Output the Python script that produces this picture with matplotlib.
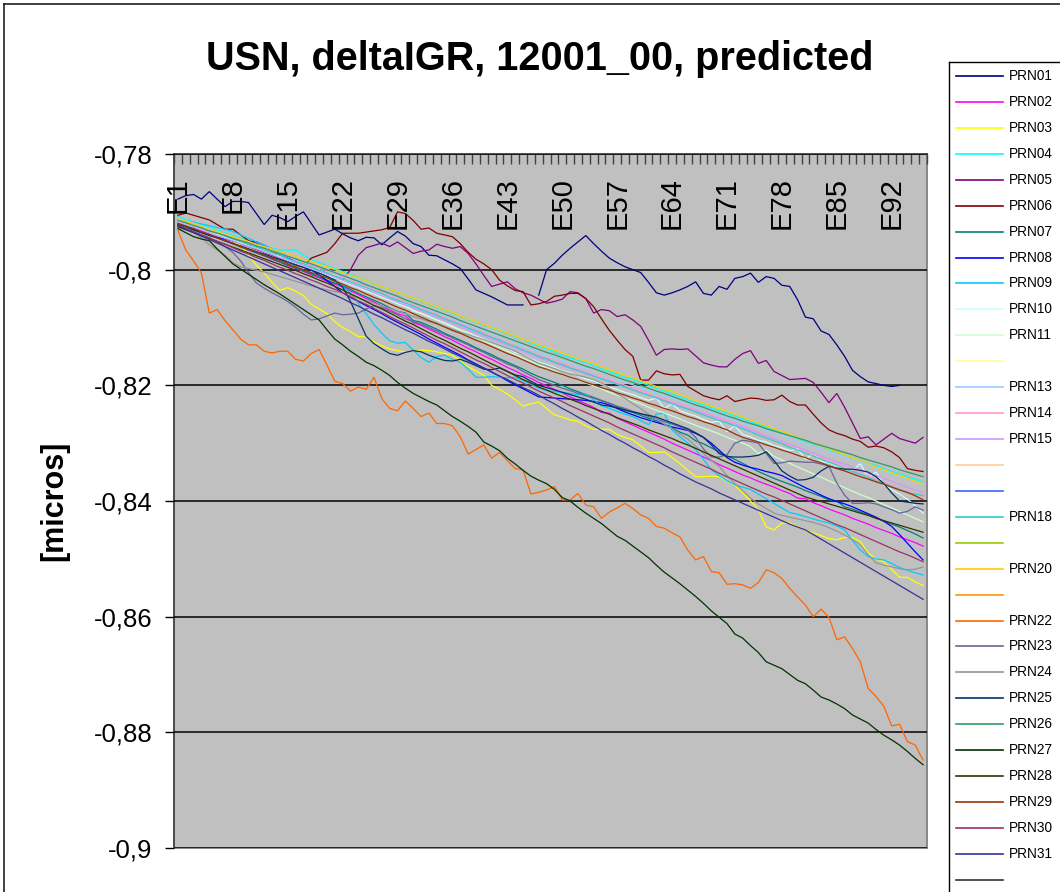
import matplotlib
matplotlib.use("Agg")
import matplotlib.pyplot as plt
import numpy as np
from matplotlib.lines import Line2D
from matplotlib.transforms import blended_transform_factory

plt.rcParams['font.family'] = ['Liberation Sans', 'DejaVu Sans']

nan = float('nan')

title = "USN, deltaIGR, 12001_00, predicted"
y_label = "[micros]"
epochs = ["E%d" % i for i in range(1, 97)]
tick_labels = ["E1", "E8", "E15", "E22", "E29", "E36", "E43", "E50",
               "E57", "E64", "E71", "E78", "E85", "E92"]
y_ticks = [-0.9, -0.88, -0.86, -0.84, -0.82, -0.8, -0.78]
y_tick_labels = ["-0,9", "-0,88", "-0,86", "-0,84", "-0,82", "-0,8", "-0,78"]

legend_labels = ["PRN01", "PRN02", "PRN03", "PRN04", "PRN05", "PRN06", "PRN07", "PRN08",
                 "PRN09", "PRN10", "PRN11", "", "PRN13", "PRN14", "PRN15", "",
                 "", "PRN18", "", "PRN20", "", "PRN22", "PRN23", "PRN24",
                 "PRN25", "PRN26", "PRN27", "PRN28", "PRN29", "PRN30", "PRN31", ""]
legend_colors = ["#000080", "#FF00FF", "#FFFF00", "#00FFFF", "#800080", "#800000", "#008080", "#0000FF",
                 "#00CCFF", "#CCFFFF", "#CCFFCC", "#FFFF99", "#99CCFF", "#FF99CC", "#CC99FF", "#FFCC99",
                 "#3366FF", "#33CCCC", "#99CC00", "#FFCC00", "#FF9900", "#FF6600", "#666699", "#969696",
                 "#003366", "#339966", "#003300", "#333300", "#993300", "#993366", "#333399", "#333333"]

prn01 = [-.7878, -.7872, -.7870, -.7878, -.7865, -.7878, -.7891, -.7882, -.7882, -.7884,
         -.7903, -.7922, -.7906, -.7910, -.7917, -.7908, -.7900, -.7920, -.7940, -.7935,
         -.7930, -.7938, -.7945, -.7950, -.7944, -.7945, -.7957, -.7945, -.7934, -.7942,
         -.7955, -.7960, -.7975, -.7976, -.7983, -.7990, -.7998, -.8016, -.8035, -.8041,
         -.8047, -.8054, -.8061, -.8061, -.8061, nan, -.8044, -.8000, -.7989, -.7975,
         -.7963, -.7952, -.7941, -.7955, -.7968, -.7980, -.7988, -.7995, -.8000, -.8005,
         -.8022, -.8040, -.8044, -.8040, -.8035, -.8029, -.8021, -.8041, -.8044, -.8029,
         -.8034, -.8015, -.8012, -.8006, -.8022, -.8012, -.8015, -.8027, -.8029, -.8052,
         -.8082, -.8085, -.8106, -.8112, -.8130, -.8150, -.8174, -.8185, -.8194, -.8197,
         -.8200, -.8202, -.8200, nan, nan, nan]
prn02 = [-.7917, -.7922, -.7928, -.7933, -.7939, -.7944, -.7949, -.7955, -.7960, -.7966,
         -.7971, -.7976, -.7982, -.7987, -.7993, -.7998, -.8003, -.8009, -.8014, -.8020,
         -.8025, -.8030, -.8037, -.8043, -.8050, -.8056, -.8063, -.8070, -.8076, -.8080,
         -.8092, -.8096, -.8103, -.8109, -.8116, -.8122, -.8129, -.8136, -.8142, -.8149,
         -.8155, -.8162, -.8169, -.8175, -.8182, -.8188, -.8195, -.8201, -.8207, -.8213,
         -.8220, -.8226, -.8232, -.8238, -.8247, -.8248, -.8257, -.8263, -.8269, -.8275,
         -.8281, -.8287, -.8293, -.8300, -.8306, -.8312, -.8318, -.8324, -.8330, -.8337,
         -.8343, -.8349, -.8355, -.8360, -.8366, -.8371, -.8376, -.8382, -.8387, -.8395,
         -.8396, -.8403, -.8408, -.8414, -.8419, -.8424, -.8430, -.8435, -.8440, -.8446,
         -.8451, -.8456, -.8462, -.8467, -.8472, -.8478]
prn03 = [-.7918, -.7922, -.7926, -.7930, -.7935, -.7940, -.7945, -.7950, -.7958, -.7975,
         -.7992, -.8006, -.8022, -.8036, -.8031, -.8037, -.8045, -.8060, -.8068, -.8076,
         -.8090, -.8100, -.8107, -.8116, -.8116, -.8125, -.8132, -.8137, -.8140, -.8142,
         -.8141, -.8139, -.8140, -.8142, -.8145, -.8148, -.8158, -.8168, -.8175, -.8183,
         -.8200, -.8207, -.8215, -.8225, -.8236, -.8232, -.8229, -.8240, -.8251, -.8255,
         -.8260, -.8262, -.8270, -.8276, -.8276, -.8276, -.8285, -.8290, -.8294, -.8305,
         -.8316, -.8316, -.8315, -.8325, -.8335, -.8347, -.8358, -.8358, -.8357, -.8358,
         -.8366, -.8373, -.8386, -.8400, -.8415, -.8445, -.8450, -.8438, -.8438, -.8444,
         -.8450, -.8455, -.8460, -.8465, -.8467, -.8463, -.8463, -.8470, -.8490, -.8500,
         -.8505, -.8518, -.8532, -.8532, -.8540, -.8546]
prn04 = [-.7908, -.7913, -.7918, -.7923, -.7927, -.7932, -.7936, -.7941, -.7946, -.7950,
         -.7955, -.7959, -.7963, -.7966, -.7966, -.7966, -.7975, -.7982, -.7988, -.7993,
         -.7998, -.8003, -.8008, -.8013, -.8018, -.8024, -.8029, -.8034, -.8039, -.8044,
         -.8050, -.8055, -.8060, -.8065, -.8070, -.8075, -.8081, -.8086, -.8091, -.8096,
         -.8101, -.8106, -.8111, -.8116, -.8121, -.8127, -.8132, -.8137, -.8142, -.8148,
         -.8152, -.8157, -.8161, -.8166, -.8171, -.8176, -.8181, -.8186, -.8190, -.8195,
         -.8200, -.8205, -.8210, -.8215, -.8220, -.8225, -.8230, -.8234, -.8239, -.8244,
         -.8248, -.8253, -.8258, -.8263, -.8268, -.8272, -.8277, -.8282, -.8287, -.8292,
         -.8297, -.8301, -.8306, -.8311, -.8316, -.8320, -.8325, -.8330, -.8335, -.8339,
         -.8344, -.8349, -.8353, -.8358, -.8362, -.8367]
prn05 = [-.7915, -.7920, -.7925, -.7930, -.7935, -.7940, -.7945, -.7950, -.7955, -.7960,
         -.7965, -.7970, -.7975, -.7980, -.7985, -.7990, -.7995, -.8000, -.8005, -.8010,
         -.8016, -.8018, -.8000, -.7975, -.7962, -.7958, -.7954, -.7960, -.7952, -.7962,
         -.7972, -.7968, -.7966, -.7956, -.7960, -.7963, -.7960, -.7972, -.7990, -.8010,
         -.8029, -.8025, -.8021, -.8033, -.8040, -.8044, -.8051, -.8058, -.8055, -.8051,
         -.8038, -.8040, -.8050, -.8075, -.8069, -.8071, -.8081, -.8078, -.8087, -.8098,
         -.8122, -.8148, -.8138, -.8137, -.8138, -.8137, -.8149, -.8161, -.8165, -.8168,
         -.8168, -.8155, -.8145, -.8140, -.8162, -.8157, -.8176, -.8183, -.8190, -.8189,
         -.8188, -.8195, -.8212, -.8230, -.8214, -.8238, -.8265, -.8292, -.8289, -.8303,
         -.8293, -.8283, -.8292, -.8296, -.8300, -.8290]
prn06 = [-.7906, -.7902, -.7906, -.7910, -.7914, -.7922, -.7930, -.7930, -.7940, -.7950,
         -.7955, -.7962, -.7968, -.7975, -.7982, -.7990, -.7995, -.7980, -.7975, -.7970,
         -.7955, -.7937, -.7937, -.7937, -.7935, -.7933, -.7931, -.7927, -.7900, -.7903,
         -.7915, -.7930, -.7928, -.7937, -.7940, -.7943, -.7955, -.7970, -.7982, -.7990,
         -.8000, -.8018, -.8028, -.8036, -.8038, -.8061, -.8059, -.8055, -.8046, -.8044,
         -.8041, -.8041, -.8050, -.8064, -.8085, -.8105, -.8122, -.8138, -.8150, -.8191,
         -.8191, -.8175, -.8180, -.8182, -.8181, -.8202, -.8210, -.8218, -.8222, -.8225,
         -.8218, -.8228, -.8225, -.8222, -.8223, -.8226, -.8225, -.8217, -.8228, -.8234,
         -.8234, -.8250, -.8265, -.8277, -.8283, -.8287, -.8293, -.8297, -.8307, -.8305,
         -.8308, -.8315, -.8325, -.8344, -.8347, -.8349]
prn07 = [-.7919, -.7924, -.7929, -.7935, -.7940, -.7945, -.7950, -.7955, -.7961, -.7966,
         -.7971, -.7976, -.7981, -.7987, -.7992, -.7997, -.8002, -.8007, -.8013, -.8018,
         -.8023, -.8028, -.8034, -.8041, -.8047, -.8053, -.8059, -.8066, -.8072, -.8075,
         -.8088, -.8091, -.8097, -.8103, -.8110, -.8116, -.8122, -.8128, -.8135, -.8141,
         -.8147, -.8154, -.8160, -.8166, -.8172, -.8179, -.8185, -.8190, -.8195, -.8200,
         -.8206, -.8211, -.8216, -.8221, -.8226, -.8231, -.8237, -.8242, -.8247, -.8252,
         -.8257, -.8261, -.8267, -.8274, -.8281, -.8286, -.8296, -.8301, -.8308, -.8315,
         -.8322, -.8328, -.8335, -.8342, -.8349, -.8355, -.8361, -.8366, -.8371, -.8376,
         -.8382, -.8387, -.8392, -.8398, -.8400, -.8410, -.8414, -.8419, -.8424, -.8429,
         -.8435, -.8440, -.8445, -.8451, -.8457, -.8464]
prn08 = [-.7921, -.7926, -.7931, -.7936, -.7940, -.7944, -.7947, -.7950, -.7951, -.7951,
         -.7952, -.7958, -.7965, -.7972, -.7979, -.7986, -.7993, -.8000, -.8009, -.8019,
         -.8029, -.8040, -.8048, -.8055, -.8062, -.8069, -.8076, -.8084, -.8091, -.8098,
         -.8105, -.8112, -.8120, -.8127, -.8134, -.8141, -.8148, -.8156, -.8163, -.8170,
         -.8177, -.8184, -.8192, -.8199, -.8206, -.8213, -.8220, -.8221, -.8222, -.8223,
         -.8224, -.8225, -.8226, -.8228, -.8230, -.8234, -.8240, -.8246, -.8251, -.8256,
         -.8260, -.8264, -.8268, -.8272, -.8275, -.8278, -.8283, -.8290, -.8300, -.8312,
         -.8325, -.8333, -.8338, -.8342, -.8345, -.8349, -.8352, -.8356, -.8363, -.8370,
         -.8377, -.8383, -.8390, -.8396, -.8401, -.8405, -.8410, -.8416, -.8422, -.8428,
         -.8435, -.8444, -.8458, -.8473, -.8488, -.8502]
prn09 = [-.7912, -.7915, -.7918, -.7921, -.7924, -.7927, -.7930, -.7934, -.7940, -.7946,
         -.7952, -.7958, -.7964, -.7970, -.7976, -.7982, -.7988, -.7994, -.8000, -.8008,
         -.8018, -.8030, -.8040, -.8058, -.8076, -.8095, -.8110, -.8123, -.8127, -.8126,
         -.8139, -.8152, -.8160, -.8150, -.8148, -.8155, -.8160, -.8172, -.8186, -.8186,
         -.8185, -.8186, -.8187, -.8186, -.8192, -.8198, -.8205, -.8209, -.8211, -.8212,
         -.8214, -.8216, -.8215, -.8225, -.8235, -.8240, -.8245, -.8250, -.8254, -.8261,
         -.8268, -.8250, -.8248, -.8277, -.8289, -.8300, -.8311, -.8328, -.8346, -.8356,
         -.8365, -.8372, -.8376, -.8380, -.8388, -.8396, -.8404, -.8412, -.8420, -.8423,
         -.8427, -.8431, -.8435, -.8438, -.8443, -.8450, -.8468, -.8485, -.8496, -.8500,
         -.8502, -.8508, -.8515, -.8520, -.8524, -.8528]
prn10 = [-.7914, -.7918, -.7924, -.7928, -.7934, -.7939, -.7943, -.7949, -.7954, -.7958,
         -.7963, -.7969, -.7973, -.7979, -.7984, -.7989, -.7994, -.7999, -.8004, -.8009,
         -.8015, -.8020, -.8026, -.8031, -.8037, -.8042, -.8048, -.8053, -.8059, -.8064,
         -.8070, -.8076, -.8081, -.8087, -.8092, -.8098, -.8104, -.8109, -.8115, -.8120,
         -.8126, -.8132, -.8137, -.8143, -.8148, -.8154, -.8160, -.8164, -.8169, -.8175,
         -.8178, -.8184, -.8189, -.8192, -.8198, -.8203, -.8207, -.8212, -.8216, -.8221,
         -.8226, -.8222, -.8240, -.8232, -.8244, -.8249, -.8253, -.8259, -.8264, -.8262,
         -.8280, -.8270, -.8285, -.8289, -.8295, -.8298, -.8304, -.8308, -.8313, -.8310,
         -.8328, -.8318, -.8331, -.8334, -.8340, -.8345, -.8348, -.8335, -.8360, -.8350,
         -.8372, -.8380, -.8388, -.8397, -.8408, -.8421]
prn11 = [-.7916, -.7921, -.7925, -.7930, -.7935, -.7939, -.7944, -.7949, -.7953, -.7958,
         -.7963, -.7967, -.7972, -.7977, -.7982, -.7986, -.7991, -.7996, -.8000, -.8005,
         -.8010, -.8015, -.8021, -.8027, -.8033, -.8039, -.8045, -.8051, -.8057, -.8058,
         -.8072, -.8075, -.8081, -.8087, -.8093, -.8099, -.8105, -.8111, -.8117, -.8123,
         -.8129, -.8135, -.8141, -.8147, -.8153, -.8159, -.8165, -.8170, -.8175, -.8181,
         -.8186, -.8191, -.8196, -.8201, -.8206, -.8212, -.8217, -.8222, -.8227, -.8232,
         -.8238, -.8243, -.8248, -.8253, -.8258, -.8264, -.8269, -.8274, -.8279, -.8284,
         -.8290, -.8295, -.8300, -.8306, -.8318, -.8312, -.8323, -.8329, -.8335, -.8341,
         -.8347, -.8353, -.8359, -.8365, -.8371, -.8377, -.8383, -.8389, -.8394, -.8400,
         -.8406, -.8412, -.8418, -.8424, -.8430, -.8436]
prn13 = [-.7910, -.7915, -.7919, -.7924, -.7929, -.7934, -.7938, -.7943, -.7948, -.7952,
         -.7957, -.7962, -.7966, -.7971, -.7976, -.7980, -.7985, -.7990, -.7994, -.7999,
         -.8004, -.8008, -.8013, -.8019, -.8024, -.8030, -.8035, -.8041, -.8046, -.8052,
         -.8057, -.8063, -.8068, -.8073, -.8079, -.8084, -.8090, -.8095, -.8100, -.8105,
         -.8105, -.8122, -.8115, -.8127, -.8132, -.8137, -.8142, -.8147, -.8152, -.8157,
         -.8162, -.8166, -.8171, -.8176, -.8175, -.8192, -.8190, -.8195, -.8199, -.8204,
         -.8209, -.8213, -.8218, -.8222, -.8227, -.8232, -.8237, -.8241, -.8246, -.8251,
         -.8255, -.8260, -.8265, -.8270, -.8274, -.8279, -.8283, -.8288, -.8293, -.8297,
         -.8302, -.8307, -.8311, -.8316, -.8321, -.8325, -.8330, -.8334, -.8339, -.8344,
         -.8348, -.8353, -.8358, -.8362, -.8367, -.8372]
prn14 = [-.7911, -.7916, -.7920, -.7925, -.7930, -.7935, -.7940, -.7945, -.7950, -.7954,
         -.7959, -.7964, -.7968, -.7973, -.7978, -.7983, -.7988, -.7993, -.7997, -.8002,
         -.8007, -.8012, -.8017, -.8023, -.8028, -.8034, -.8039, -.8045, -.8050, -.8056,
         -.8061, -.8067, -.8072, -.8077, -.8083, -.8088, -.8094, -.8099, -.8105, -.8110,
         -.8115, -.8121, -.8126, -.8132, -.8137, -.8143, -.8148, -.8153, -.8158, -.8162,
         -.8167, -.8172, -.8176, -.8181, -.8186, -.8190, -.8195, -.8200, -.8204, -.8209,
         -.8214, -.8219, -.8223, -.8228, -.8233, -.8237, -.8242, -.8247, -.8251, -.8256,
         -.8261, -.8265, -.8270, -.8275, -.8281, -.8286, -.8292, -.8297, -.8303, -.8308,
         -.8313, -.8319, -.8324, -.8330, -.8335, -.8341, -.8346, -.8351, -.8357, -.8362,
         -.8368, -.8373, -.8379, -.8384, -.8390, -.8395]
prn15 = [-.7918, -.7922, -.7927, -.7931, -.7936, -.7941, -.7946, -.7950, -.7955, -.7960,
         -.7964, -.7969, -.7974, -.7979, -.7983, -.7988, -.7993, -.7998, -.8003, -.8008,
         -.8013, -.8018, -.8024, -.8029, -.8034, -.8040, -.8045, -.8051, -.8056, -.8061,
         -.8067, -.8072, -.8077, -.8083, -.8088, -.8093, -.8099, -.8104, -.8109, -.8115,
         -.8120, -.8125, -.8131, -.8136, -.8141, -.8147, -.8152, -.8157, -.8161, -.8166,
         -.8171, -.8175, -.8180, -.8184, -.8189, -.8194, -.8198, -.8203, -.8207, -.8212,
         -.8217, -.8221, -.8226, -.8230, -.8235, -.8240, -.8244, -.8249, -.8253, -.8258,
         -.8263, -.8267, -.8272, -.8277, -.8282, -.8287, -.8292, -.8297, -.8302, -.8307,
         -.8312, -.8317, -.8322, -.8327, -.8332, -.8336, -.8341, -.8346, -.8351, -.8356,
         -.8361, -.8366, -.8371, -.8376, -.8381, -.8385]
prn18 = [-.7913, -.7917, -.7923, -.7927, -.7933, -.7936, -.7942, -.7947, -.7951, -.7957,
         -.7961, -.7966, -.7971, -.7975, -.7981, -.7986, -.7990, -.7996, -.8001, -.8005,
         -.8011, -.8015, -.8021, -.8026, -.8031, -.8037, -.8041, -.8048, -.8053, -.8058,
         -.8063, -.8069, -.8074, -.8079, -.8085, -.8090, -.8095, -.8101, -.8106, -.8112,
         -.8117, -.8122, -.8128, -.8133, -.8139, -.8144, -.8150, -.8154, -.8160, -.8164,
         -.8170, -.8174, -.8179, -.8184, -.8189, -.8193, -.8198, -.8203, -.8208, -.8213,
         -.8217, -.8222, -.8227, -.8232, -.8237, -.8241, -.8246, -.8251, -.8256, -.8261,
         -.8265, -.8270, -.8275, -.8280, -.8286, -.8291, -.8296, -.8301, -.8307, -.8312,
         -.8317, -.8322, -.8328, -.8333, -.8338, -.8344, -.8349, -.8354, -.8359, -.8365,
         -.8370, -.8375, -.8380, -.8386, -.8388, -.8391]
prn20 = [-.7912, -.7916, -.7921, -.7925, -.7930, -.7934, -.7938, -.7943, -.7947, -.7951,
         -.7956, -.7960, -.7964, -.7969, -.7973, -.7977, -.7982, -.7986, -.7991, -.7995,
         -.8000, -.8005, -.8010, -.8014, -.8019, -.8024, -.8029, -.8034, -.8039, -.8044,
         -.8049, -.8054, -.8059, -.8064, -.8069, -.8074, -.8080, -.8085, -.8090, -.8095,
         -.8100, -.8105, -.8110, -.8115, -.8120, -.8125, -.8130, -.8135, -.8139, -.8144,
         -.8149, -.8154, -.8158, -.8163, -.8168, -.8173, -.8178, -.8183, -.8187, -.8192,
         -.8197, -.8202, -.8207, -.8211, -.8216, -.8221, -.8226, -.8231, -.8236, -.8240,
         -.8245, -.8250, -.8255, -.8260, -.8265, -.8270, -.8275, -.8280, -.8285, -.8290,
         -.8295, -.8300, -.8305, -.8310, -.8315, -.8320, -.8325, -.8330, -.8336, -.8341,
         -.8346, -.8351, -.8356, -.8361, -.8366, -.8371]
prn22 = [-.7932, -.7966, -.7985, -.8006, -.8075, -.8069, -.8088, -.8104, -.8120, -.8130,
         -.8130, -.8141, -.8144, -.8141, -.8141, -.8155, -.8158, -.8145, -.8138, -.8165,
         -.8193, -.8197, -.8210, -.8203, -.8207, -.8186, -.8223, -.8240, -.8244, -.8227,
         -.8240, -.8254, -.8248, -.8266, -.8266, -.8270, -.8289, -.8319, -.8311, -.8303,
         -.8326, -.8316, -.8330, -.8344, -.8346, -.8388, -.8385, -.8381, -.8375, -.8398,
         -.8398, -.8387, -.8407, -.8410, -.8430, -.8419, -.8412, -.8404, -.8413, -.8424,
         -.8430, -.8444, -.8447, -.8455, -.8462, -.8485, -.8502, -.8496, -.8522, -.8524,
         -.8544, -.8543, -.8545, -.8551, -.8541, -.8519, -.8524, -.8534, -.8551, -.8566,
         -.8580, -.8600, -.8587, -.8601, -.8640, -.8635, -.8655, -.8678, -.8724, -.8738,
         -.8755, -.8789, -.8786, -.8816, -.8822, -.8848]
prn23 = [-.7925, -.7930, -.7935, -.7940, -.7945, -.7952, -.7960, -.7970, -.7985, -.8005,
         -.8023, -.8032, -.8040, -.8047, -.8055, -.8065, -.8077, -.8087, -.8085, -.8080,
         -.8075, -.8078, -.8077, -.8075, -.8068, -.8062, -.8066, -.8072, -.8078, -.8085,
         -.8090, -.8094, -.8100, -.8106, -.8112, -.8118, -.8124, -.8130, -.8137, -.8143,
         -.8150, -.8156, -.8163, -.8168, -.8176, -.8183, -.8190, -.8195, -.8200, -.8205,
         -.8209, -.8214, -.8218, -.8222, -.8227, -.8231, -.8236, -.8240, -.8245, -.8249,
         -.8254, -.8258, -.8263, -.8267, -.8272, -.8277, -.8290, -.8310, -.8324, -.8324,
         -.8320, -.8300, -.8295, -.8297, -.8300, -.8318, -.8335, -.8334, -.8331, -.8332,
         -.8333, -.8333, -.8336, -.8340, -.8369, -.8390, -.8404, -.8404, -.8403, -.8405,
         -.8410, -.8415, -.8421, -.8418, -.8410, -.8416]
prn24 = [-.7920, -.7927, -.7935, -.7945, -.7957, -.7966, -.7975, -.7988, -.7995, -.7998,
         -.8001, -.8004, -.8008, -.8012, -.8016, -.8020, -.8024, -.8028, -.8032, -.8035,
         -.8038, -.8040, -.8045, -.8049, -.8054, -.8058, -.8063, -.8067, -.8072, -.8076,
         -.8081, -.8085, -.8090, -.8094, -.8099, -.8103, -.8108, -.8112, -.8117, -.8121,
         -.8126, -.8131, -.8136, -.8141, -.8148, -.8155, -.8162, -.8166, -.8171, -.8176,
         -.8180, -.8183, -.8186, -.8190, -.8196, -.8205, -.8215, -.8222, -.8232, -.8240,
         -.8250, -.8258, -.8267, -.8275, -.8284, -.8293, -.8305, -.8318, -.8330, -.8340,
         -.8356, -.8370, -.8382, -.8395, -.8405, -.8413, -.8421, -.8425, -.8428, -.8431,
         -.8434, -.8437, -.8441, -.8446, -.8452, -.8459, -.8467, -.8476, -.8493, -.8507,
         -.8511, -.8514, -.8517, -.8519, -.8518, -.8514]
prn25 = [-.7922, -.7926, -.7931, -.7936, -.7941, -.7945, -.7950, -.7955, -.7959, -.7964,
         -.7969, -.7973, -.7978, -.7982, -.7987, -.7992, -.7996, -.8001, -.8006, -.8012,
         -.8018, -.8030, -.8055, -.8085, -.8115, -.8128, -.8137, -.8145, -.8148, -.8143,
         -.8140, -.8142, -.8148, -.8153, -.8157, -.8158, -.8155, -.8160, -.8166, -.8172,
         -.8173, -.8170, -.8176, -.8182, -.8185, -.8193, -.8200, -.8204, -.8208, -.8212,
         -.8216, -.8220, -.8224, -.8229, -.8234, -.8236, -.8239, -.8243, -.8246, -.8249,
         -.8252, -.8255, -.8260, -.8265, -.8270, -.8275, -.8282, -.8290, -.8303, -.8318,
         -.8323, -.8324, -.8324, -.8323, -.8321, -.8315, -.8330, -.8348, -.8357, -.8364,
         -.8363, -.8359, -.8348, -.8340, -.8343, -.8345, -.8345, -.8347, -.8350, -.8358,
         -.8370, -.8386, -.8400, -.8402, -.8404, -.8405]
prn26 = [-.7915, -.7919, -.7924, -.7928, -.7933, -.7937, -.7941, -.7946, -.7950, -.7954,
         -.7959, -.7963, -.7968, -.7972, -.7977, -.7981, -.7986, -.7990, -.7995, -.8000,
         -.8005, -.8010, -.8015, -.8020, -.8026, -.8031, -.8036, -.8041, -.8046, -.8052,
         -.8057, -.8062, -.8067, -.8072, -.8077, -.8082, -.8088, -.8093, -.8098, -.8103,
         -.8108, -.8113, -.8118, -.8123, -.8128, -.8133, -.8138, -.8143, -.8147, -.8152,
         -.8157, -.8162, -.8167, -.8171, -.8176, -.8181, -.8186, -.8191, -.8195, -.8200,
         -.8205, -.8210, -.8214, -.8219, -.8224, -.8229, -.8234, -.8238, -.8243, -.8248,
         -.8253, -.8257, -.8262, -.8266, -.8270, -.8275, -.8279, -.8283, -.8287, -.8291,
         -.8295, -.8300, -.8304, -.8308, -.8312, -.8316, -.8320, -.8325, -.8329, -.8333,
         -.8337, -.8341, -.8346, -.8350, -.8354, -.8358]
prn27 = [-.7929, -.7936, -.7943, -.7947, -.7950, -.7964, -.7977, -.7990, -.7999, -.8008,
         -.8017, -.8026, -.8034, -.8042, -.8051, -.8060, -.8069, -.8078, -.8087, -.8104,
         -.8120, -.8130, -.8141, -.8150, -.8160, -.8166, -.8174, -.8183, -.8195, -.8205,
         -.8214, -.8221, -.8228, -.8234, -.8244, -.8254, -.8262, -.8271, -.8281, -.8298,
         -.8305, -.8313, -.8326, -.8336, -.8347, -.8357, -.8364, -.8370, -.8380, -.8394,
         -.8400, -.8411, -.8421, -.8430, -.8439, -.8450, -.8461, -.8468, -.8478, -.8488,
         -.8498, -.8511, -.8523, -.8533, -.8543, -.8554, -.8565, -.8577, -.8590, -.8601,
         -.8612, -.8630, -.8637, -.8650, -.8662, -.8678, -.8684, -.8690, -.8700, -.8710,
         -.8716, -.8727, -.8739, -.8744, -.8751, -.8759, -.8770, -.8777, -.8784, -.8795,
         -.8805, -.8813, -.8822, -.8833, -.8845, -.8856]
prn28 = [-.7926, -.7931, -.7936, -.7941, -.7946, -.7951, -.7956, -.7961, -.7966, -.7971,
         -.7976, -.7981, -.7986, -.7991, -.7996, -.8001, -.8007, -.8012, -.8018, -.8023,
         -.8029, -.8035, -.8042, -.8048, -.8055, -.8062, -.8068, -.8075, -.8082, -.8089,
         -.8095, -.8102, -.8109, -.8116, -.8122, -.8129, -.8136, -.8142, -.8149, -.8156,
         -.8163, -.8169, -.8176, -.8183, -.8190, -.8196, -.8203, -.8208, -.8214, -.8219,
         -.8224, -.8229, -.8235, -.8240, -.8245, -.8250, -.8256, -.8261, -.8266, -.8271,
         -.8277, -.8282, -.8287, -.8292, -.8298, -.8303, -.8309, -.8315, -.8321, -.8327,
         -.8333, -.8339, -.8345, -.8351, -.8357, -.8363, -.8369, -.8375, -.8381, -.8387,
         -.8393, -.8397, -.8401, -.8405, -.8409, -.8413, -.8417, -.8421, -.8425, -.8430,
         -.8434, -.8438, -.8442, -.8446, -.8450, -.8454]
prn29 = [-.7920, -.7925, -.7929, -.7935, -.7939, -.7945, -.7950, -.7954, -.7960, -.7965,
         -.7969, -.7975, -.7980, -.7984, -.7990, -.7995, -.8000, -.8005, -.8010, -.8014,
         -.8020, -.8025, -.8031, -.8036, -.8042, -.8048, -.8053, -.8059, -.8065, -.8070,
         -.8076, -.8082, -.8088, -.8093, -.8099, -.8105, -.8110, -.8116, -.8122, -.8127,
         -.8133, -.8139, -.8145, -.8150, -.8156, -.8162, -.8168, -.8172, -.8177, -.8181,
         -.8186, -.8190, -.8195, -.8199, -.8204, -.8208, -.8213, -.8217, -.8222, -.8226,
         -.8231, -.8235, -.8240, -.8244, -.8249, -.8254, -.8258, -.8263, -.8267, -.8272,
         -.8277, -.8284, -.8290, -.8294, -.8298, -.8303, -.8307, -.8312, -.8316, -.8321,
         -.8325, -.8330, -.8334, -.8339, -.8344, -.8348, -.8353, -.8358, -.8362, -.8367,
         -.8371, -.8376, -.8381, -.8385, -.8391, -.8398]
prn30 = [-.7923, -.7929, -.7934, -.7940, -.7945, -.7951, -.7956, -.7962, -.7968, -.7973,
         -.7979, -.7984, -.7990, -.7996, -.8001, -.8007, -.8012, -.8018, -.8023, -.8029,
         -.8034, -.8040, -.8047, -.8054, -.8060, -.8067, -.8074, -.8081, -.8088, -.8094,
         -.8101, -.8108, -.8115, -.8122, -.8128, -.8135, -.8142, -.8149, -.8156, -.8162,
         -.8169, -.8176, -.8183, -.8190, -.8196, -.8203, -.8210, -.8216, -.8222, -.8228,
         -.8235, -.8241, -.8247, -.8253, -.8259, -.8265, -.8272, -.8278, -.8284, -.8290,
         -.8296, -.8302, -.8308, -.8315, -.8321, -.8327, -.8333, -.8339, -.8345, -.8352,
         -.8358, -.8364, -.8370, -.8376, -.8382, -.8388, -.8393, -.8399, -.8405, -.8411,
         -.8417, -.8423, -.8429, -.8435, -.8441, -.8446, -.8452, -.8458, -.8464, -.8470,
         -.8476, -.8482, -.8488, -.8493, -.8499, -.8505]
prn31 = [-.7924, -.7930, -.7936, -.7942, -.7948, -.7954, -.7960, -.7966, -.7972, -.7978,
         -.7984, -.7990, -.7996, -.8002, -.8008, -.8014, -.8020, -.8026, -.8032, -.8038,
         -.8044, -.8050, -.8057, -.8063, -.8070, -.8077, -.8083, -.8090, -.8097, -.8104,
         -.8110, -.8117, -.8124, -.8130, -.8137, -.8144, -.8150, -.8157, -.8164, -.8170,
         -.8177, -.8184, -.8190, -.8197, -.8204, -.8210, -.8217, -.8225, -.8232, -.8240,
         -.8247, -.8255, -.8262, -.8270, -.8278, -.8285, -.8293, -.8300, -.8308, -.8315,
         -.8323, -.8330, -.8338, -.8345, -.8353, -.8360, -.8367, -.8373, -.8379, -.8386,
         -.8392, -.8398, -.8404, -.8410, -.8416, -.8422, -.8428, -.8434, -.8440, -.8445,
         -.8450, -.8458, -.8466, -.8474, -.8482, -.8490, -.8498, -.8506, -.8514, -.8522,
         -.8530, -.8538, -.8546, -.8554, -.8562, -.8570]

series = {
    "PRN01": prn01, "PRN02": prn02, "PRN03": prn03, "PRN04": prn04, "PRN05": prn05,
    "PRN06": prn06, "PRN07": prn07, "PRN08": prn08, "PRN09": prn09, "PRN10": prn10,
    "PRN11": prn11, "PRN13": prn13, "PRN14": prn14, "PRN15": prn15, "PRN18": prn18,
    "PRN20": prn20, "PRN22": prn22, "PRN23": prn23, "PRN24": prn24, "PRN25": prn25,
    "PRN26": prn26, "PRN27": prn27, "PRN28": prn28, "PRN29": prn29, "PRN30": prn30,
    "PRN31": prn31,
}
for k, v in series.items():
    if len(v) != len(epochs):
        raise ValueError("%s has %d values" % (k, len(v)))

W, H = 1060, 892
fig = plt.figure(figsize=(W / 100, H / 100), dpi=100)
fig.patch.set_facecolor("white")

def fx(px):
    return px / W

def fy(py):
    return 1 - py / H

ax_l, ax_r, ax_t, ax_b = 174, 927, 154, 848
ax = fig.add_axes([fx(ax_l), fy(ax_b), fx(ax_r) - fx(ax_l), fy(ax_t) - fy(ax_b)])
ax.set_facecolor("#C0C0C0")

x = np.arange(1, len(epochs) + 1)
color_of = dict(zip(legend_labels, legend_colors))
for i, (name, vals) in enumerate(series.items()):
    ax.plot(x, vals, color=color_of[name], lw=0.9, zorder=3 + i * 0.01,
            solid_joinstyle="miter")

ax.set_xlim(0.5, len(epochs) + 0.5)
ax.set_ylim(-0.9, -0.78)

ax.set_yticks(y_ticks)
ax.set_yticklabels(y_tick_labels, fontsize=18.5)
ax.yaxis.grid(True, color="#111111", lw=1.2, zorder=2)
ax.set_axisbelow(False)
ax.tick_params(axis="y", direction="out", length=6.5, width=1.0, color="black", pad=9)

ax.xaxis.tick_top()
ax.set_xticks([])
ax.set_xticks(np.arange(0.5, len(epochs) + 1.0, 1.0), minor=True)
ax.tick_params(axis="x", which="minor", direction="in", length=7.2, width=1.0,
               color="#404040", top=True, bottom=False)
trans = blended_transform_factory(ax.transData, ax.transAxes)
for lbl in tick_labels:
    pos = epochs.index(lbl) + 1
    ax.text(pos, (ax_b - 177) / (ax_b - ax_t), lbl, transform=trans, rotation=90,
            ha="center", va="top", fontsize=21, color="black", zorder=10)

for side in ["top", "left"]:
    ax.spines[side].set_color("#404040")
    ax.spines[side].set_linewidth(1.3)
for side in ["right", "bottom"]:
    ax.spines[side].set_color("#808080")
    ax.spines[side].set_linewidth(1.3)

fig.text(fx(540), fy(70), title, ha="center", va="baseline", fontsize=28.5,
         fontweight="bold")
fig.text(fx(54), fy(501), y_label, ha="center", va="center", rotation=90,
         fontsize=22, fontweight="bold")

fig.add_artist(Line2D([fx(4), fx(4)], [0, fy(4)], transform=fig.transFigure,
                      color="#202020", lw=1.2))
fig.add_artist(Line2D([fx(4), 1], [fy(4), fy(4)], transform=fig.transFigure,
                      color="#202020", lw=1.2))

fig.add_artist(Line2D([fx(949), fx(949)], [0, fy(62)], transform=fig.transFigure,
                      color="black", lw=1.0))
fig.add_artist(Line2D([fx(949), 1], [fy(62), fy(62)], transform=fig.transFigure,
                      color="black", lw=1.0))
for i, (lab, col) in enumerate(zip(legend_labels, legend_colors)):
    yy = 76 + i * 25.93
    fig.add_artist(Line2D([fx(956), fx(1003)], [fy(yy), fy(yy)],
                          transform=fig.transFigure, color=col, lw=1.2))
    if lab:
        fig.text(fx(1009), fy(yy), lab, ha="left", va="center", fontsize=9.8)

fig.savefig("out.png", dpi=100)
